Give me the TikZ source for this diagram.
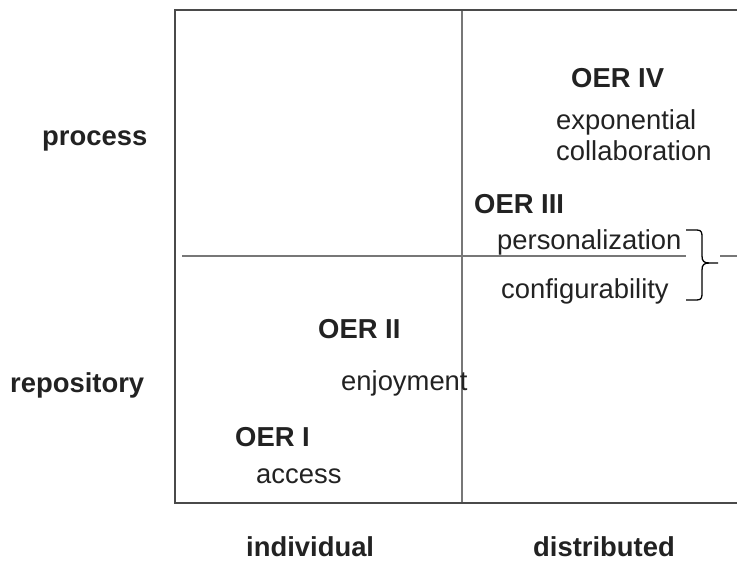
\documentclass[tikz,border=0pt]{standalone}
\usepackage{fontspec}
\setmainfont{Liberation Sans}
\definecolor{txt}{HTML}{222222}
\definecolor{frame}{HTML}{4A4A4A}
\definecolor{divl}{HTML}{777777}
\begin{document}
\begin{tikzpicture}[x=1pt,y=-1pt,
  lab/.style={anchor=base west,inner sep=0pt,text=txt,font=\fontsize{27.4}{31}\selectfont},
  blab/.style={lab,font=\fontsize{27.4}{31}\selectfont\bfseries},
  frameline/.style={draw=frame,line width=2.6pt},
  divline/.style={draw=divl,line width=1.8pt}]
\useasboundingbox (0,0) rectangle (737,561);
% dividers
\draw[divline] (462,10) -- (462,503);
\draw[divline] (182,256) -- (686,256);
\draw[divline] (720,256) -- (737,256);
% frame
\draw[frameline] (737,10) -- (175,10) -- (175,503) -- (737,503);
% brace
\draw[black,line width=1.3pt,line join=round]
  (686,230) -- (697,230) .. controls (702,230) and (702,233) .. (702,238)
  -- (702,256) .. controls (702,261) and (704,263) .. (709,263) -- (718,263);
\draw[black,line width=1.3pt,line join=round]
  (686,300) -- (697,300) .. controls (702,300) and (702,297) .. (702,292)
  -- (702,270) .. controls (702,265) and (704,263) .. (709,263);
% axis labels
\node[blab] (process) at (42,146) {process};
\node[blab] (repo) at (10,393) {repository};
\node[blab] (indiv) at (246,556) {individual};
\node[blab] (distr) at (533,556) {distributed};
% OER labels
\node[blab] (o4) at (571,88) {OER IV};
\node[lab] (expo) at (556,130) {exponential};
\node[lab] (coll) at (556,161) {collaboration};
\node[blab] (o3) at (474,214) {OER III};
\node[lab] (pers) at (497,250) {personalization};
\node[lab] (conf) at (501,299) {configurability};
\node[blab] (o2) at (318,339) {OER II};
\node[lab] (enj) at (341,391) {enjoyment};
\node[blab] (o1) at (235,447) {OER I};
\node[lab] (acc) at (256,484) {access};
\end{tikzpicture}
\end{document}
